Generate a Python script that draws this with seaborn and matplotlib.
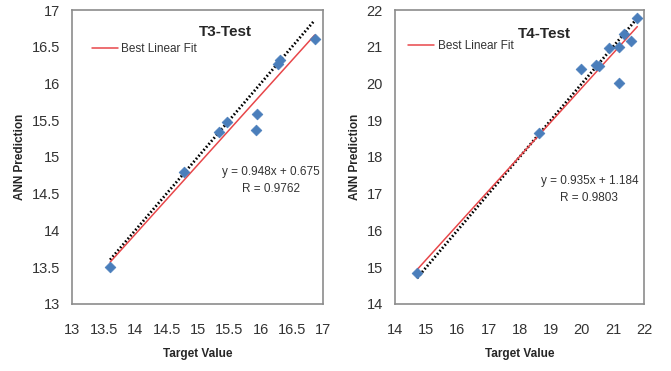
import numpy as np
import pandas as pd
import matplotlib
matplotlib.use('Agg')
import matplotlib.pyplot as plt
import seaborn as sns

sns.set_style('white')
plt.rcParams['font.family'] = ['Liberation Sans', 'DejaVu Sans']

# T3 test data
t3_target = [13.60, 14.78, 15.34, 15.46, 15.94, 15.93, 16.27, 16.31, 16.86]
t3_pred = [13.50, 14.79, 15.34, 15.47, 15.59, 15.37, 16.27, 16.32, 16.61]
t3_slope, t3_icpt, t3_r = 0.948, 0.675, 0.9762

# T4 test data
t4_target = [14.70, 18.63, 19.98, 20.46, 20.55, 20.88, 21.18, 21.18, 21.34, 21.58, 21.78]
t4_pred = [14.84, 18.66, 20.39, 20.50, 20.48, 20.96, 21.00, 20.02, 21.34, 21.16, 21.77]
t4_slope, t4_icpt, t4_r = 0.935, 1.184, 0.9803

panels = [
    dict(name='T3-Test', x=t3_target, y=t3_pred, a=t3_slope, b=t3_icpt, r=t3_r,
         lim=(13, 17), ticks=np.arange(13, 17.01, 0.5),
         rect=[0.108, 0.181, 0.374, 0.792], title_xy=(0.608, 0.926),
         leg_xy=(0.076, 0.866), eq_xy=(0.79, 0.42)),
    dict(name='T4-Test', x=t4_target, y=t4_pred, a=t4_slope, b=t4_icpt, r=t4_r,
         lim=(14, 22), ticks=np.arange(14, 22.01, 1),
         rect=[0.589, 0.181, 0.371, 0.792], title_xy=(0.60, 0.92),
         leg_xy=(0.052, 0.878), eq_xy=(0.78, 0.39)),
]

fig = plt.figure(figsize=(6.71, 3.71), dpi=100)

for p in panels:
    ax = fig.add_axes(p['rect'])
    df = pd.DataFrame({'Target': p['x'], 'Pred': p['y']})
    xs = np.array([min(p['x']), max(p['x'])])
    line = pd.DataFrame({'x': xs, 'ideal': xs, 'fit': p['a'] * xs + p['b']})

    sns.lineplot(data=line, x='x', y='ideal', ax=ax, color='black', lw=2.0,
                 linestyle=(0, (0.6, 0.8)), zorder=2)
    sns.lineplot(data=line, x='x', y='fit', ax=ax, color='#e8474a', lw=1.1,
                 label='Best Linear Fit', zorder=3)
    sns.scatterplot(data=df, x='Target', y='Pred', ax=ax, marker='D', s=30,
                    color='#4a7ebb', edgecolor='#4a7ebb', linewidth=0.5, zorder=4)

    ax.set_xlim(p['lim'])
    ax.set_ylim(p['lim'])
    ax.set_xticks(p['ticks'])
    ax.set_yticks(p['ticks'])
    ax.set_xticklabels([f'{t:g}' for t in p['ticks']])
    ax.set_yticklabels([f'{t:g}' for t in p['ticks']])
    ax.tick_params(axis='both', direction='out', length=4, width=0.8,
                   color='#888888', labelsize=10.5, labelcolor='#333333', pad=5)
    ax.tick_params(axis='x', pad=10)
    for s in ax.spines.values():
        s.set_color('#8c8c8c')
        s.set_linewidth(1.2)

    ax.set_xlabel('Target Value', fontsize=8.5, fontweight='bold', labelpad=8)
    ax.set_ylabel('ANN Prediction', fontsize=8.5, fontweight='bold', labelpad=4)

    ax.text(*p['title_xy'], p['name'], transform=ax.transAxes, ha='center',
            va='center', fontsize=11, fontweight='bold')
    ax.text(*p['eq_xy'], f"y = {p['a']:.3f}x + {p['b']:.3f}\nR = {p['r']:.4f}",
            transform=ax.transAxes, ha='center', va='center', fontsize=8.5,
            color='#333333', linespacing=1.5)

    leg = ax.legend(loc='center left', bbox_to_anchor=p['leg_xy'], frameon=False,
                    fontsize=8.5, handlelength=2.2, handletextpad=0.3,
                    borderaxespad=0, borderpad=0)
    for t in leg.get_texts():
        t.set_color('#333333')

fig.savefig('out.png', dpi=100)
